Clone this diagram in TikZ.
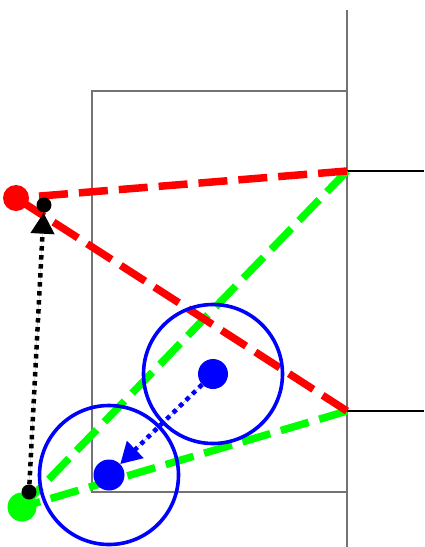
\documentclass[tikz,border=0pt]{standalone}
\usetikzlibrary{arrows.meta}
\begin{document}
\begin{tikzpicture}[x=1pt,y=-1pt,
  frame/.style={draw=black!55, line width=1.6pt},
  rail/.style={draw=black, line width=1.4pt},
  redline/.style={draw=red, line width=7.5pt, dash pattern=on 29pt off 11pt},
  greenline/.style={draw=green, line width=7.5pt, dash pattern=on 29pt off 11pt},
  ring/.style={draw=blue, line width=3.6pt},
  bigdot/.style={circle, inner sep=0pt, minimum size=#1},
  blackdot/.style={circle, fill=black, inner sep=0pt, minimum size=15pt},
  dotarrow/.style={line width=4.5pt, dash pattern=on 4.5pt off 4.5pt, -{Triangle[length=21pt,width=23pt]}}
]
\useasboundingbox (0,0) rectangle (424,547);
% frame
\draw[frame] (347,10) -- (347,547);
\draw[frame] (347,91) -- (92,91) -- (92,492) -- (347,492);
\coordinate (P) at (347,171);
\coordinate (Q) at (347,411);
\draw[rail] (P) -- (424,171);
\draw[rail] (Q) -- (424,411);
% named points
\coordinate (R) at (16,198);
\coordinate (G) at (22,507);
% green lines
\draw[greenline] (P) -- (G);
\draw[greenline] (Q) -- (G);
% red lines
\draw[redline] (P) -- (R);
\draw[redline] (Q) -- (R);
% blue circles
\draw[ring] (213,374) circle (69.5);
\draw[ring] (109,475) circle (69.5);
% dots
\node[bigdot=26pt, fill=red] (rd) at (R) {};
\node[bigdot=29pt, fill=green] (gd) at (G) {};
\node[blackdot] (bt) at (44,205) {};
\node[blackdot] (bb) at (29,492) {};
\node[bigdot=30pt, fill=blue] (b1) at (213,374) {};
\node[bigdot=31pt, fill=blue] (b2) at (109,475) {};
% arrows
\draw[dotarrow, draw=black, fill=black] (bb) -- (bt);
\draw[dotarrow, draw=blue, fill=blue] (b1) -- (b2);
\end{tikzpicture}
\end{document}
